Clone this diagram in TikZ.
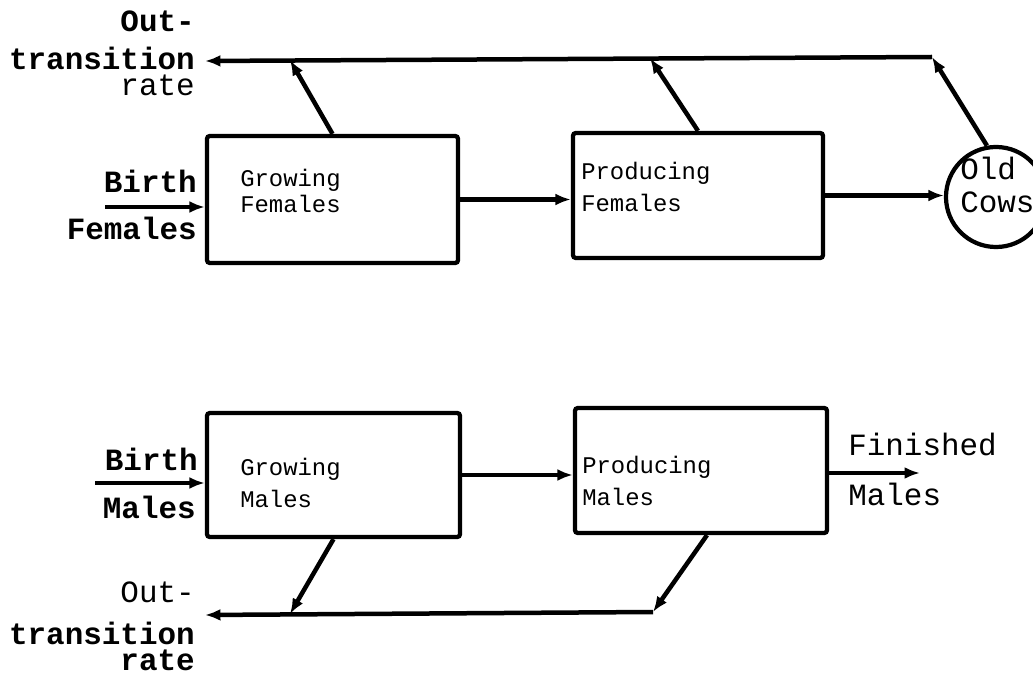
\documentclass[tikz,border=0pt]{standalone}
\usepackage{fontspec}
\setmonofont{Liberation Mono}
\usetikzlibrary{arrows.meta}
\begin{document}
\begin{tikzpicture}[x=0.025cm,y=-0.025cm,
  box/.style={draw, line width=3pt, rounded corners=2pt, inner sep=0pt},
  flow/.style={line width=3.2pt, -{Latex[length=11pt,width=8.5pt]}},
  lab/.style={font=\ttfamily\bfseries\fontsize{22}{26}\selectfont, inner sep=0pt},
  labr/.style={font=\ttfamily\fontsize{22}{26}\selectfont, inner sep=0pt},
  boxt/.style={font=\ttfamily\fontsize{17}{20}\selectfont, inner sep=0pt, anchor=base west}]
\useasboundingbox (0,0) rectangle (1033,675);

% ---- top: females ----
\node[box, minimum width=6.275cm, minimum height=3.175cm] (gf) at (332.5,199.5) {};
\node[box, minimum width=6.25cm, minimum height=3.125cm] (pf) at (698,195.5) {};
\node[draw, circle, line width=3pt, minimum size=2.5cm, inner sep=0pt] (oc) at (996,197) {};

\node[boxt] (gft1) at (240,187) {Growing};
\node[boxt] (gft2) at (240,213) {Females};
\node[boxt] (pft1) at (581,180) {Producing};
\node[boxt] (pft2) at (581,212) {Females};
\node[labr, anchor=base west] (oct1) at (960,180) {Old};
\node[labr, anchor=base west] (oct2) at (960,213) {Cows};

\node[lab, anchor=base east] (to1) at (195,32) {Out-};
\node[lab, anchor=base east] (to2) at (195,70) {transition};
\node[labr, anchor=base east] (to3) at (195,96) {rate};
\node[lab, anchor=base east] (bf1) at (197,193) {Birth};
\node[lab, anchor=base east] (bf2) at (197,240) {Females};

\coordinate (tl) at (205,61);
\coordinate (tc) at (932,57);
\coordinate (j1) at (290,60);
\coordinate (j2) at (650,58);
\coordinate (bfs) at (105,207);

\draw[flow] (bfs) -- (bfs -| gf.west);
\draw[flow] (gf.east) -- (gf.east -| pf.west);
\draw[flow] (pf.east) -- (pf.east -| oc.west);
\draw[flow] (oc.100) -- (tc);
\draw[flow] (tc) -- (tl);
\draw[flow] (gf.north) -- (j1);
\draw[flow] (pf.north) -- (j2);

% ---- bottom: males ----
\node[box, minimum width=6.325cm, minimum height=3.1cm] (gm) at (333.5,475) {};
\node[box, minimum width=6.3cm, minimum height=3.125cm] (pm) at (701,470.5) {};

\node[boxt] (gmt1) at (240,475) {Growing};
\node[boxt] (gmt2) at (240,507) {Males};
\node[boxt] (pmt1) at (582,473) {Producing};
\node[boxt] (pmt2) at (582,505) {Males};

\node[lab, anchor=base east] (bm1) at (198,470) {Birth};
\node[lab, anchor=base east] (bm2) at (196,518) {Males};
\node[labr, anchor=base east] (bo1) at (195,602) {Out-};
\node[lab, anchor=base east] (bo2) at (195,644) {transition};
\node[lab, anchor=base east] (bo3) at (195,670) {rate};
\node[labr, anchor=base west] (fm1) at (848,455) {Finished};
\node[labr, anchor=base west] (fm2) at (848,505) {Males};

\coordinate (bms) at (95,483);
\coordinate (fin) at (920,473);
\coordinate (bl) at (205,615);
\coordinate (bc) at (653,612);
\coordinate (j3) at (290,614);

\draw[flow] (bms) -- (bms -| gm.west);
\draw[flow] (gm.east) -- (gm.east -| pm.west);
\draw[flow] (fin -| pm.east) -- (fin);
\draw[flow] ([xshift=0.15cm]pm.south) -- (bc);
\draw[flow] (bc) -- (bl);
\draw[flow] (gm.south) -- (j3);
\end{tikzpicture}
\end{document}
